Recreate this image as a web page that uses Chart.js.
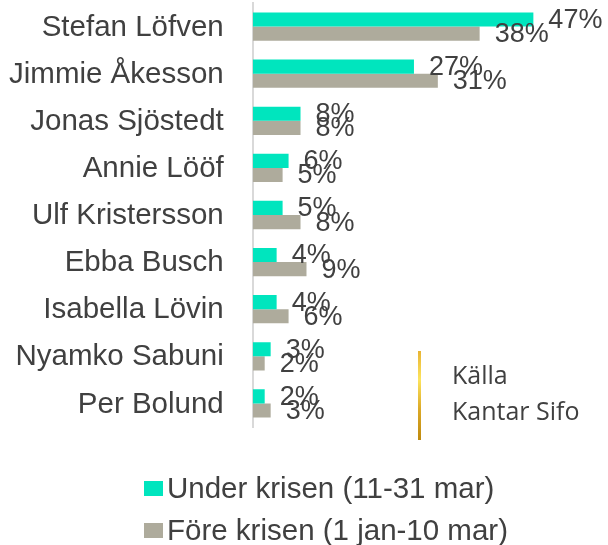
<!DOCTYPE html>
<html>
<head>
<meta charset="utf-8">
<script src="https://cdn.jsdelivr.net/npm/chart.js@4"></script>
<style>
  body { margin: 0; background: #fff; }
  #wrap { position: relative; width: 608px; height: 545px; }
  #legend { position: absolute; left: 144px; top: 467px; font: 29.5px "Liberation Sans", Arial, sans-serif; color: #404040; }
  #legend .row { display: flex; align-items: center; height: 42px; white-space: nowrap; }
  #legend .box { width: 19px; height: 15px; margin-right: 4px; }
  #source { position: absolute; left: 418px; top: 351px; height: 89px; width: 3px;
    background: linear-gradient(#e8b434, #fde45e 32%, #dcaa28 65%, #bf8a0e); }
  #sourceText { position: absolute; left: 452px; top: 356px; font: 25px "Open Sans", sans-serif; line-height: 36px; color: #404040; }
</style>
</head>
<body>
<div id="wrap">
  <canvas id="chart"></canvas>
  <div id="legend"></div>
  <div id="source"></div>
  <div id="sourceText">Källa<br>Kantar Sifo</div>
</div>
<script>
// ─── data ─────────────────────────────────────────────
const names = ['Stefan Löfven', 'Jimmie Åkesson', 'Jonas Sjöstedt', 'Annie Lööf', 'Ulf Kristersson',
  'Ebba Busch', 'Isabella Lövin', 'Nyamko Sabuni', 'Per Bolund'];
const underKrisen = [47, 27, 8, 6, 5, 4, 4, 3, 2];
const foreKrisen = [38, 31, 8, 5, 8, 9, 6, 2, 3];
const seriesNames = ['Under krisen (11-31 mar)', 'Före krisen (1 jan-10 mar)'];

const TEXT = '#404040';
const FONT = '"Liberation Sans", Arial, sans-serif';

// value labels at bar end
const valueLabels = {
  id: 'valueLabels',
  afterDatasetsDraw(chart) {
    const ctx = chart.ctx;
    ctx.save();
    ctx.font = '27px ' + FONT;
    ctx.fillStyle = TEXT;
    ctx.textBaseline = 'middle';
    chart.data.datasets.forEach((ds, i) => {
      chart.getDatasetMeta(i).data.forEach((bar, j) => {
        ctx.fillText(ds.data[j] + '%', bar.x + 15, bar.y + 1);
      });
    });
    ctx.restore();
  }
};

const chart = new Chart(document.getElementById('chart'), {
  type: 'bar',
  data: {
    labels: names,
    datasets: [
      { label: seriesNames[0], data: underKrisen, backgroundColor: '#00e5be' },
      { label: seriesNames[1], data: foreKrisen, backgroundColor: '#aeab9c' }
    ]
  },
  options: {
    indexAxis: 'y',
    responsive: true,
    maintainAspectRatio: false,
    animation: false,
    datasets: { bar: { categoryPercentage: 0.6, barPercentage: 1 } },
    layout: { padding: { left: 9, top: 3, right: 0, bottom: 118 } },
    plugins: { legend: { display: false }, tooltip: { enabled: false } },
    scales: {
      x: { display: false, min: 0, max: 59.5 },
      y: {
        // tick marks kept invisible, only used as the gap between names and axis
        grid: { display: true, drawOnChartArea: false, drawTicks: true, tickLength: 29, color: 'rgba(0,0,0,0)' },
        border: { display: true, color: '#d9d9d9', width: 2 },
        ticks: { color: TEXT, font: { family: FONT, size: 29.5, lineHeight: 0.2 }, padding: 0, labelOffset: 1 }
      }
    }
  },
  plugins: [valueLabels]
});

// legend
document.getElementById('legend').innerHTML = chart.data.datasets.map(ds =>
  `<div class="row"><span class="box" style="background:${ds.backgroundColor}"></span>${ds.label}</div>`).join('');
</script>
</body>
</html>
